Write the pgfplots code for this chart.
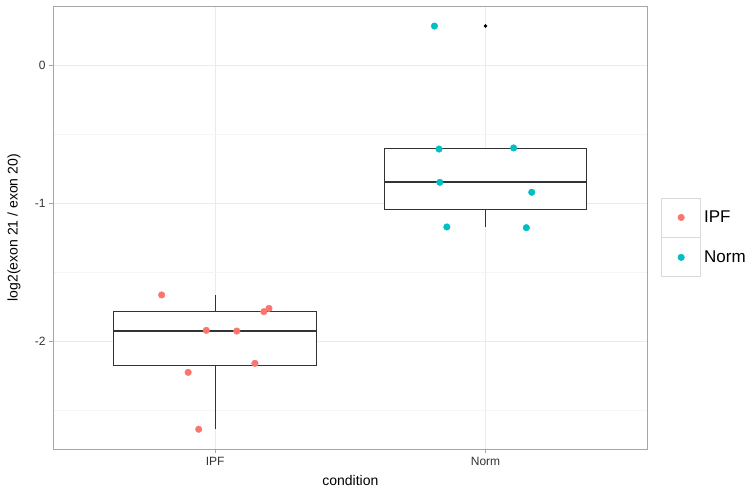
\documentclass[border=0pt]{standalone}
\usepackage{fontspec}
\setmainfont{Liberation Sans}
\usepackage{pgfplots}
\pgfplotsset{compat=1.18}
\definecolor{ipf}{HTML}{F8766D}
\definecolor{norm}{HTML}{00BFC4}
\definecolor{gridmaj}{HTML}{EBEBEB}
\definecolor{gridmin}{HTML}{F5F5F5}
\definecolor{framec}{HTML}{A6A6A6}
\definecolor{legframe}{HTML}{D9D9D9}
\definecolor{boxc}{HTML}{333333}
\begin{document}
\begin{tikzpicture}
\useasboundingbox (-53bp,-44.7bp) rectangle (698bp,449.3bp);
\begin{axis}[
  at={(0,0)}, anchor=south west,
  width=594.7bp, height=443bp, scale only axis,
  xmin=0.4, xmax=2.6, ymin=-2.779, ymax=0.427,
  xtick={1,2}, xticklabels={IPF,Norm},
  ytick={-2,-1,0}, yticklabels={-2,-1,0},
  minor ytick={-2.5,-1.5,-0.5},
  xmajorgrids, ymajorgrids, yminorgrids,
  major grid style={gridmaj, line width=0.6bp},
  minor grid style={gridmin, line width=0.6bp},
  axis line style={framec, line width=0.9bp},
  tick align=outside, major tick length=4bp, minor tick length=0pt,
  tick style={framec, line width=0.9bp},
  xtick pos=bottom, ytick pos=left,
  tick label style={font=\fontsize{12bp}{14bp}\selectfont, text=black!80},
  label style={font=\fontsize{14bp}{17bp}\selectfont},
  xlabel={condition}, ylabel={log2(exon 21 / exon 20)},
  xlabel style={at={(axis description cs:0.5,-0.0711)}, anchor=center},
  ylabel style={at={(axis description cs:-0.0656,0.5)}, anchor=center},
  legend style={at={(1.0224,0.5688)}, anchor=north west, draw=none, fill=none,
    inner sep=0pt, row sep=0pt, column sep=3bp,
    font=\fontsize{17bp}{20bp}\selectfont, nodes={inner sep=0pt}},
  legend cell align=left,
  legend image code/.code={
    \draw[draw=legframe, fill=white, line width=0.9bp] (0bp,-19.5bp) rectangle (39bp,19.5bp);
    \draw[mark repeat=2, mark phase=2] plot coordinates {(0bp,0bp)(19.5bp,0bp)(39bp,0bp)};
  },
  boxl/.style={boxc, line width=0.9bp, mark=none, forget plot},
]
% IPF box: whiskers -2.634 / -1.662, quartiles -2.174 / -1.778, median -1.920
\addplot[boxl] coordinates {(1,-2.634) (1,-2.174)};
\addplot[boxl] coordinates {(1,-1.778) (1,-1.662)};
\addplot[boxl, fill=white] coordinates {(0.625,-2.174) (1.375,-2.174) (1.375,-1.778) (0.625,-1.778)} -- cycle;
\addplot[boxl, line width=1.8bp] coordinates {(0.625,-1.920) (1.375,-1.920)};
% Norm box: whiskers -1.172 / -0.600, quartiles -1.042 / -0.603, median -0.847
\addplot[boxl] coordinates {(2,-1.172) (2,-1.042)};
\addplot[boxl, fill=white] coordinates {(1.625,-1.042) (2.375,-1.042) (2.375,-0.603) (1.625,-0.603)} -- cycle;
\addplot[boxl, line width=1.8bp] coordinates {(1.625,-0.847) (2.375,-0.847)};
\addplot[only marks, mark=*, mark size=1.6bp, black, forget plot] coordinates {(2,0.284)};
\addplot[only marks, mark=*, mark size=3.3bp, color=ipf, mark options={fill=ipf, draw=ipf}]
  coordinates {(0.802,-1.662) (0.967,-1.918) (1.080,-1.923) (1.180,-1.783) (1.199,-1.759)
   (1.147,-2.157) (0.900,-2.222) (0.939,-2.634)};
\addlegendentry{IPF}
\addplot[only marks, mark=*, mark size=3.3bp, color=norm, mark options={fill=norm, draw=norm}]
  coordinates {(1.811,0.284) (1.828,-0.606) (2.104,-0.598) (1.831,-0.847) (2.171,-0.919)
   (1.857,-1.170) (2.151,-1.175)};
\addlegendentry{Norm}
\end{axis}
\end{tikzpicture}
\end{document}
